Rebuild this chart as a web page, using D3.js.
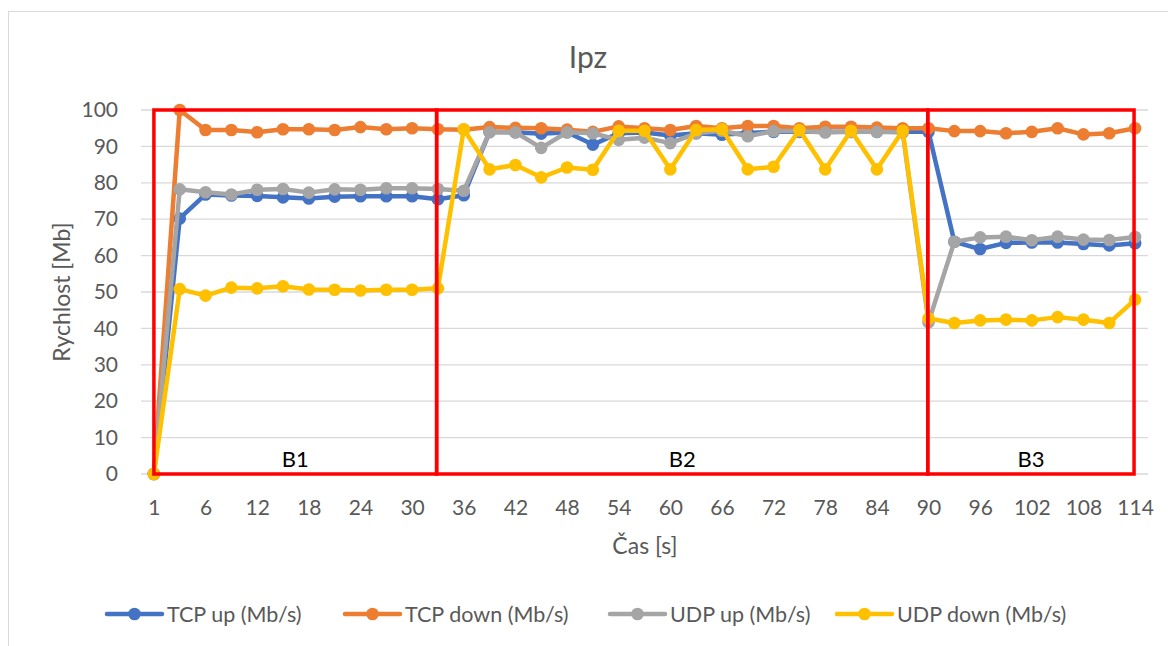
<!DOCTYPE html>
<html><head><meta charset="utf-8">
<script src="https://cdn.jsdelivr.net/npm/d3@7"></script>
<style>
html,body{margin:0;padding:0;background:#fff;}
svg text{font-family:"Lato","Open Sans","Liberation Sans",sans-serif;}
</style></head>
<body><svg id="c" width="1168" height="646"></svg>
<script>
const categories = [1,3,6,9,12,15,18,21,24,27,30,33,36,39,42,45,48,51,54,57,60,63,66,69,72,75,78,81,84,87,90,93,96,99,102,105,108,111,114];
const tickLabels = [1,6,12,18,24,30,36,42,48,54,60,66,72,78,84,90,96,102,108,114];
const yTicks = [0,10,20,30,40,50,60,70,80,90,100];
const seriesNames = ["TCP up (Mb/s)","TCP down (Mb/s)","UDP up (Mb/s)","UDP down (Mb/s)"];
const seriesColors = ["#4472C4","#ED7D31","#A5A5A5","#FFC000"];
const tcpUp = [0,70.2,76.8,76.5,76.4,76.0,75.7,76.2,76.3,76.3,76.3,75.5,76.6,94.0,93.9,93.5,93.9,90.5,93.6,93.8,93.0,93.6,93.2,93.7,94.0,94.0,94.0,94.0,94.0,94.0,94.0,63.8,61.8,63.5,63.6,63.6,63.2,62.8,63.4];
const tcpDown = [0,100,94.5,94.5,93.9,94.7,94.7,94.5,95.3,94.7,95.0,94.7,94.6,95.3,95.1,95.0,94.6,94.0,95.5,95.0,94.5,95.6,95.0,95.6,95.6,95.0,95.4,95.4,95.2,95.0,95.0,94.2,94.2,93.6,94.0,95.0,93.3,93.6,95.0];
const udpUp = [0,78.2,77.4,76.8,78.1,78.3,77.3,78.2,78.1,78.5,78.5,78.3,77.8,93.9,93.9,89.6,93.9,93.6,91.8,92.4,90.9,93.6,94.3,92.8,94.2,94.2,93.8,94.0,94.0,93.8,41.7,63.8,65.0,65.2,64.2,65.2,64.4,64.3,65.1];
const udpDown = [0,50.8,49.0,51.2,51.0,51.6,50.7,50.6,50.4,50.6,50.6,51.0,94.7,83.7,84.9,81.5,84.2,83.6,94.3,94.3,83.7,94.5,94.7,83.7,84.4,94.5,83.7,94.3,83.7,94.3,42.7,41.5,42.2,42.4,42.2,43.1,42.4,41.5,47.9];
// annotation boxes: [start index, end index] in category positions
const boxLabels = ["B1","B2","B3"];
const boxStarts = [0, 10.95, 29.97];
const boxEnds = [10.95, 29.97, 37.96];

const svg = d3.select("#c");
const L = 141, R = 1148, T = 110, B = 474;
const x = d3.scalePoint().domain(categories).range([L,R]).padding(0.5);
const y = d3.scaleLinear().domain([0,100]).range([B,T]);
const step = x.step();
const xi = i => x(categories[0]) + i*step;

// chart border
svg.append("rect").attr("x",8.5).attr("y",11.5).attr("width",1200).attr("height",700)
  .attr("fill","none").attr("stroke","#D9D9D9").attr("stroke-width",1);

// gridlines
svg.append("g").selectAll("line").data(yTicks).join("line")
  .attr("x1",L).attr("x2",R).attr("y1",d=>y(d)).attr("y2",d=>y(d))
  .attr("stroke","#D9D9D9").attr("stroke-width",1.3);

// y axis
const yAx = svg.append("g").attr("transform",`translate(${L},0)`)
  .call(d3.axisLeft(y).tickValues(yTicks).tickSize(0).tickPadding(23));
yAx.select(".domain").remove();
yAx.selectAll("text").attr("font-size",21).attr("fill","#595959").attr("font-family","Lato, sans-serif");

// x axis
const xAx = svg.append("g").attr("transform",`translate(0,${B})`)
  .call(d3.axisBottom(x).tickValues(tickLabels).tickSize(0).tickPadding(26));
xAx.select(".domain").remove();
xAx.selectAll("text").attr("font-size",21).attr("fill","#595959").attr("font-family","Lato, sans-serif");

// series
const allSeries = [tcpUp, tcpDown, udpUp, udpDown];
const line = d3.line().x((d,i)=>x(categories[i])).y(d=>y(d));
allSeries.forEach((s,k)=>{
  const g = svg.append("g");
  g.append("path").datum(s).attr("d",line).attr("fill","none")
    .attr("stroke",seriesColors[k]).attr("stroke-width",4.5).attr("stroke-linejoin","round").attr("stroke-linecap","round");
  g.selectAll("circle").data(s).join("circle")
    .attr("cx",(d,i)=>x(categories[i])).attr("cy",d=>y(d)).attr("r",6.3)
    .attr("fill",seriesColors[k]);
});

// red boxes
boxLabels.forEach((lab,i)=>{
  const x0 = xi(boxStarts[i]), x1 = xi(boxEnds[i]);
  svg.append("rect").attr("x",x0).attr("y",y(100)).attr("width",x1-x0).attr("height",y(0)-y(100))
    .attr("fill","none").attr("stroke","#FF0000").attr("stroke-width",3.5);
  svg.append("text").attr("x",(x0+x1)/2).attr("y",y(0)-7).attr("text-anchor","middle")
    .attr("font-size",22).attr("fill","#000").text(lab);
});

// title
svg.append("text").attr("x",588).attr("y",68).attr("text-anchor","middle")
  .attr("font-size",30).attr("fill","#595959").text("Ipz");
// axis titles
svg.append("text").attr("transform",`translate(70,292) rotate(-90)`).attr("text-anchor","middle")
  .attr("font-size",23).attr("fill","#595959").text("Rychlost [Mb]");
svg.append("text").attr("x",645).attr("y",554).attr("text-anchor","middle")
  .attr("font-size",23).attr("fill","#595959").text("Čas [s]");

// legend
const legX = [107, 345, 610, 837];
const lg = svg.append("g");
seriesNames.forEach((n,k)=>{
  const g = lg.append("g").attr("transform",`translate(${legX[k]},614)`);
  g.append("line").attr("x1",0).attr("x2",55).attr("y1",0).attr("y2",0)
    .attr("stroke",seriesColors[k]).attr("stroke-width",4.5).attr("stroke-linecap","round");
  g.append("circle").attr("cx",27.5).attr("cy",0).attr("r",6.3).attr("fill",seriesColors[k]);
  g.append("text").attr("x",60).attr("y",7.5).attr("font-size",21.5).attr("fill","#595959").text(n);
});
</script>
</body></html>
